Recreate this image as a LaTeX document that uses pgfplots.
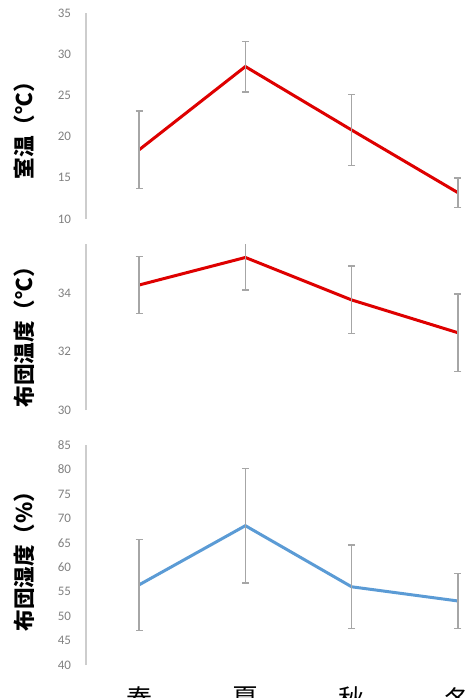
\documentclass[border=0pt]{standalone}
\usepackage{pgfplots}
\pgfplotsset{compat=1.18}
\usepackage{fontspec}
\setmainfont{Carlito}
\newfontfamily\cjk{Noto Sans CJK JP}
\definecolor{lred}{RGB}{222,0,0}
\definecolor{lblue}{RGB}{91,155,213}
\definecolor{ebar}{RGB}{166,166,166}
\definecolor{axgray}{RGB}{205,205,205}
\definecolor{tickgray}{RGB}{128,128,128}
\pgfplotsset{panel/.style={
  scale only axis, width=212.5pt, xmin=-0.5, xmax=3.5,
  axis x line*=bottom, x axis line style={draw=none},
  axis y line*=left,
  y axis line style={draw=axgray, line width=0.7pt},
  major tick length=0pt,
  yticklabel style={font=\fontsize{6.5}{7}\selectfont, text=tickgray, xshift=-4pt},
  /pgf/number format/assume math mode=true,
  ylabel style={anchor=center, font=\cjk\bfseries\fontsize{10.8}{12}\selectfont},
  anchor=south west,
  clip=true,
},
series/.style={line width=1.5pt, mark=none,
  error bars/.cd, y dir=both, y explicit,
  error bar style={ebar, line width=0.8pt},
  error mark options={ebar, line width=0.8pt, mark size=1.75pt, rotate=90}}
}
\begin{document}
\begin{tikzpicture}
\useasboundingbox (0,0) rectangle (233.5pt,-349pt);
\clip (0,0) rectangle (233.5pt,-349pt);
% Panel 1
\begin{axis}[panel, at={(43pt,-109.5pt)}, height=103pt,
  ymin=10, ymax=35, ytick={10,15,20,25,30,35}, xtick=\empty,
  ylabel={室温（℃）},
  ylabel style={at={(axis description cs:-0.146,0.455)}}]
\addplot[lred, series] coordinates {
  (0,18.4) +- (0,4.7)
  (1,28.5) +- (0,3.05)
  (2,20.8) +- (0,4.3)
  (3,13.2) +- (0,1.8)
};
\end{axis}
% Panel 2
\begin{axis}[panel, at={(43pt,-205pt)}, height=83pt,
  ymin=30, ymax=35.67, ytick={30,32,34}, xtick=\empty,
  ylabel={布団温度（℃）},
  ylabel style={at={(axis description cs:-0.146,0.47)}}]
\addplot[lred, series] coordinates {
  (0,34.27) +- (0,0.98)
  (1,35.21) +- (0,1.12)
  (2,33.76) +- (0,1.15)
  (3,32.64) +- (0,1.33)
};
\end{axis}
% Panel 3
\begin{axis}[panel, at={(43pt,-332.5pt)}, height=110pt,
  ymin=40, ymax=85, ytick={40,45,50,55,60,65,70,75,80,85},
  xtick={0,1,2,3}, xticklabels={春,夏,秋,冬},
  xticklabel style={font=\cjk\fontsize{13}{15}\selectfont, text=black, anchor=north, yshift=-7.5pt},
  ylabel={布団湿度（\%）},
  ylabel style={at={(axis description cs:-0.146,0.495)}}]
\addplot[lblue, series] coordinates {
  (0,56.4) +- (0,9.3)
  (1,68.5) +- (0,11.7)
  (2,56.0) +- (0,8.5)
  (3,53.1) +- (0,5.6)
};
\end{axis}
\end{tikzpicture}
\end{document}
